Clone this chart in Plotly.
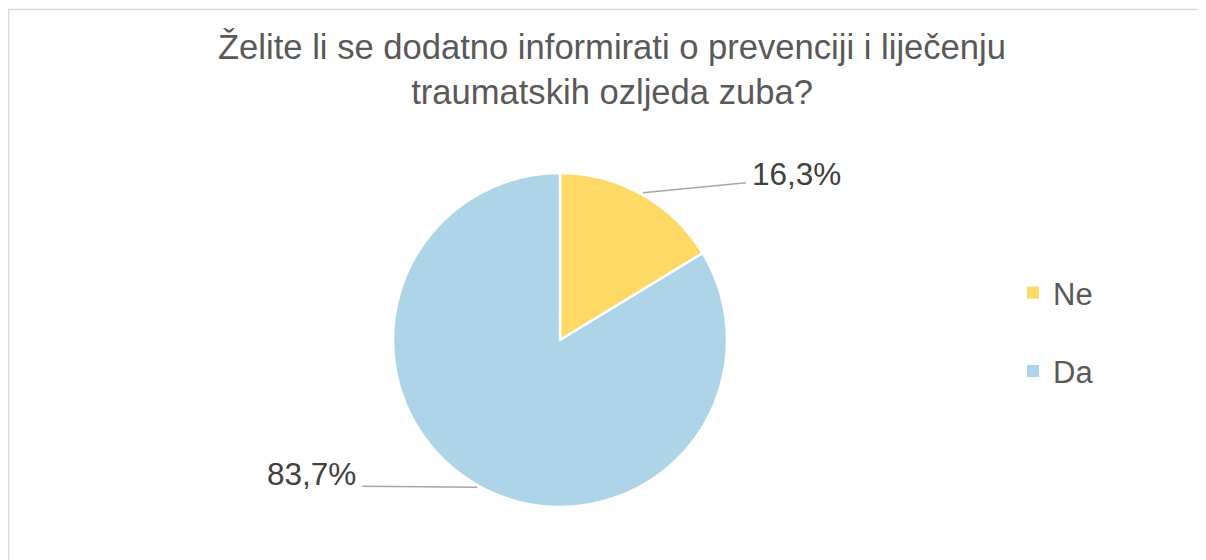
import math
import plotly.graph_objects as go

# ---- data ----
categories = ["Ne", "Da"]
values = [16.3, 83.7]
colors = ["#FFD966", "#ADD4E7"]
title_text = "Želite li se dodatno informirati o prevenciji i liječenju<br>traumatskih ozljeda zuba?"

# the page body has an 8px margin, so the figure is drawn offset by 8px
OFF = 8
W, H = 1206 - OFF, 560 - OFF
FONT = "Liberation Sans, Arial, Helvetica, sans-serif"

# pie geometry (screen pixels)
cx, cy, r = 560, 340, 167

def px(x):
    return (x - OFF) / W

def py(y):
    return 1 - (y - OFF) / H

fig = go.Figure()
fig.add_trace(go.Pie(
    labels=categories, values=values, sort=False, direction="clockwise", rotation=0,
    marker=dict(colors=colors, line=dict(color="white", width=2.5)),
    textinfo="none", hoverinfo="label+percent", showlegend=False,
    domain=dict(x=[px(cx - r), px(cx + r)], y=[py(cy + r), py(cy - r)]),
))

# legend entries via dummy traces
for i, (cat, col) in enumerate(zip(categories, colors)):
    fig.add_trace(go.Scatter(
        x=[None], y=[None], mode="markers", name=cat, legendgroup=cat,
        marker=dict(symbol="square", size=12, color=col),
    ))

# data labels with leader lines, placed at mid-angle of each slice
label_offsets = [(103, -10), (-115, -1)]  # line end offsets from slice edge (px)
text_gap = [(4, -9), (-4, -12)]
anchors = ["left", "right"]
total = sum(values)
cum = 0.0
shapes = []
annotations = []
for i, v in enumerate(values):
    mid = (cum + v / 2) / total * 2 * math.pi
    cum += v
    ex = cx + (r + 2) * math.sin(mid)
    ey = cy - (r + 2) * math.cos(mid)
    lx = ex + label_offsets[i][0]
    ly = ey + label_offsets[i][1]
    shapes.append(dict(type="line", xref="paper", yref="paper",
                       x0=px(ex), y0=py(ey), x1=px(lx), y1=py(ly),
                       line=dict(color="#A6A6A6", width=1.5)))
    annotations.append(dict(
        xref="paper", yref="paper", x=px(lx + text_gap[i][0]), y=py(ly + text_gap[i][1]),
        xanchor=anchors[i], yanchor="middle", showarrow=False,
        text=f"{v:.1f}".replace(".", ",") + "%",
        font=dict(family=FONT, size=31.5, color="#404040"),
    ))

# chart border
shapes.append(dict(type="rect", xref="paper", yref="paper",
                   x0=px(8.5), y0=-0.05, x1=1.05, y1=py(9.5),
                   line=dict(color="#D9D9D9", width=1.5), fillcolor="rgba(0,0,0,0)"))

fig.update_layout(
    width=W, height=H,
    margin=dict(l=0, r=0, t=0, b=0),
    paper_bgcolor="white", plot_bgcolor="white",
    title=dict(text=title_text, x=px(612), xanchor="center", y=py(59), yanchor="top",
               yref="container", font=dict(family=FONT, size=34.6, color="#595959")),
    xaxis=dict(visible=False), yaxis=dict(visible=False),
    legend=dict(x=px(1013), y=py(266), xanchor="left", yanchor="top",
                font=dict(family=FONT, size=31, color="#595959"),
                tracegroupgap=35, traceorder="grouped", bgcolor="rgba(0,0,0,0)"),
    shapes=shapes, annotations=annotations,
)

fig.write_html("out.html")
